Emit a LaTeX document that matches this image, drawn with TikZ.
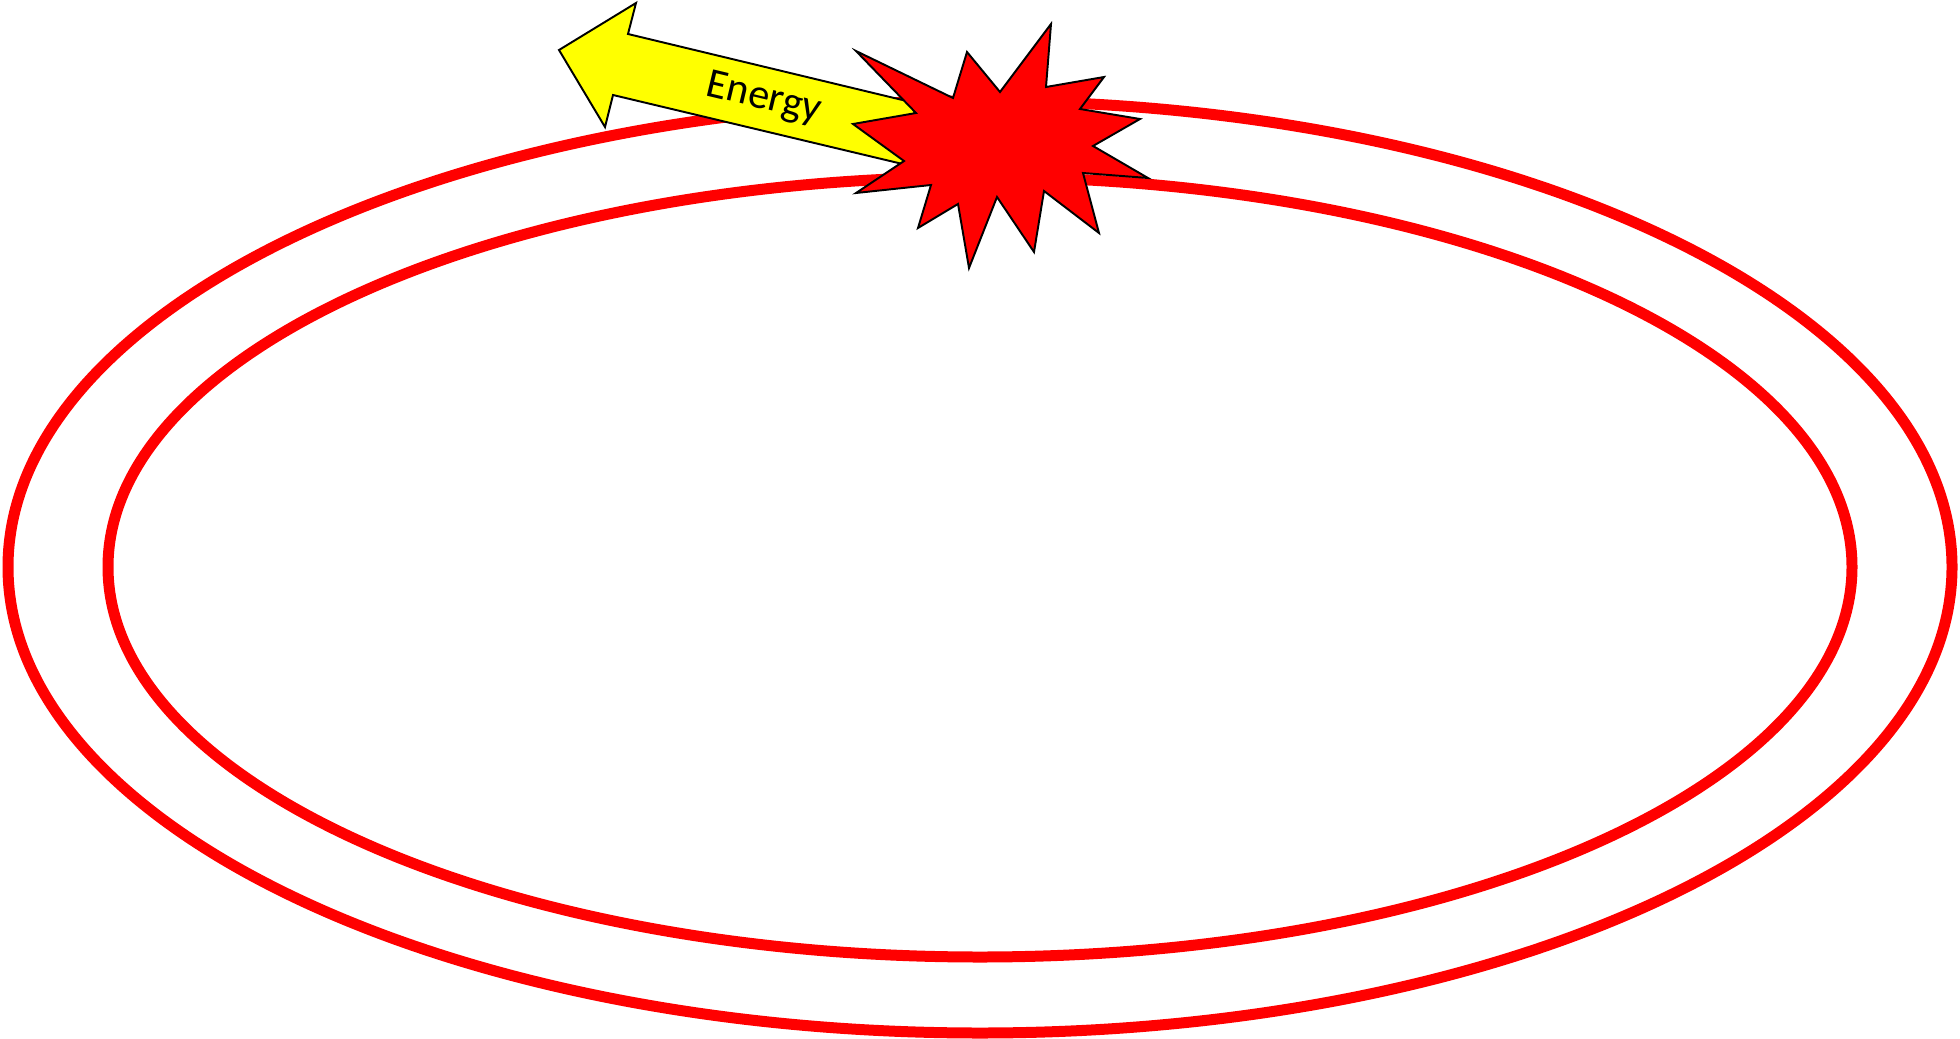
\documentclass[tikz,border=0pt]{standalone}
\usepackage{fontspec}
\setsansfont{Carlito}
\definecolor{ink}{HTML}{000000}
\definecolor{orbitred}{HTML}{FF0000}
\definecolor{burstred}{HTML}{FF0000}
\definecolor{glow}{HTML}{FFFF00}

\begin{document}
\begin{tikzpicture}[
  x=0.02cm, y=-0.02cm,
  font=\sffamily,
  orbit/.style={draw=orbitred, line width=0.22cm},
  outline/.style={draw=ink, line width=1.1pt, line join=miter},
  energytext/.style={font=\fontsize{24}{24}\selectfont\sffamily, text=ink, inner sep=0pt}
]
\useasboundingbox (0,0) rectangle (1960,1038);

% Two orbit rings round one centre.
\coordinate (centre) at (980,567);
\draw[orbit] (centre) ellipse [x radius=972, y radius=466];
\draw[orbit] (centre) ellipse [x radius=872, y radius=390];

% Block arrow leaving the burst.
\draw[outline, fill=glow] (559,50) -- (636,3) -- (628,34) -- (915,103)
  -- (911,166) -- (613,95) -- (605,127) -- cycle;
\node[energytext, rotate=-13.4] (energy) at (764,99) {Energy};

% Burst on top of the rings.
\draw[outline, fill=burstred]
  (856,51) -- (953,98) -- (967,52) -- (1000,92) -- (1051,24) -- (1046,87)
  -- (1104,77) -- (1080,109) -- (1140,119) -- (1093,146) -- (1148,178)
  -- (1083,173) -- (1099,233) -- (1044,191) -- (1034,252) -- (997,197)
  -- (969,268) -- (958,204) -- (918,228) -- (931,185) -- (856,193)
  -- (904,161) -- (853,124) -- (916,113) -- cycle;

\end{tikzpicture}
\end{document}
